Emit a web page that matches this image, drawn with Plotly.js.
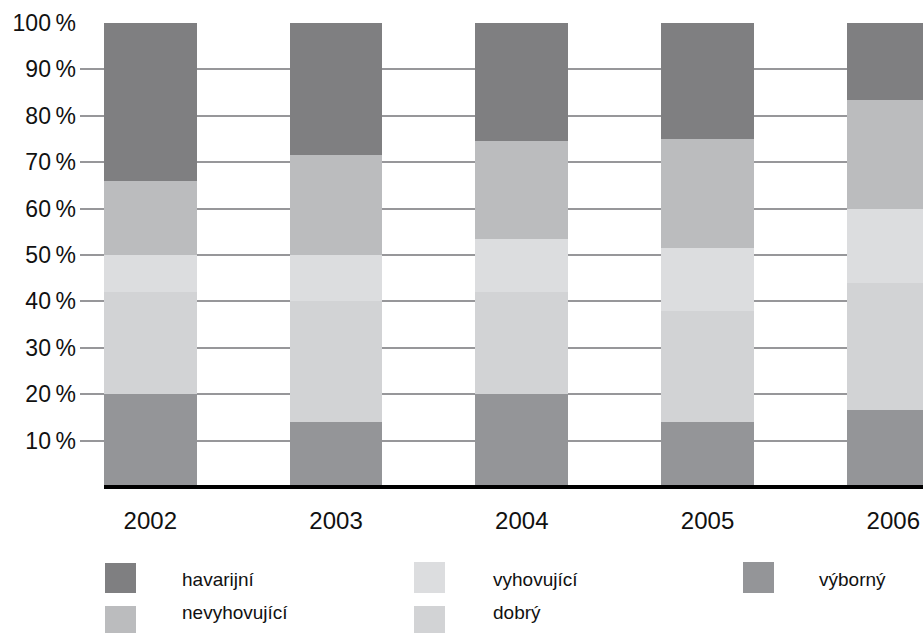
<!DOCTYPE html>
<html>
<head>
<meta charset="utf-8">
<script src="https://cdn.plot.ly/plotly-3.0.1.min.js"></script>
<style>html,body{margin:0;padding:0;background:#fff;}#chart{width:923px;height:633px;}</style>
</head>
<body>
<div id="chart"></div>
<script>
const years = ['2002', '2003', '2004', '2005', '2006'];
const seriesNames = ['výborný', 'dobrý', 'vyhovující', 'nevyhovující', 'havarijní'];
const vyborny      = [20, 14, 20, 14, 16.5];
const dobry        = [22, 26, 22, 24, 27.5];
const vyhovujici   = [8, 10, 11.5, 13.5, 16];
const nevyhovujici = [16, 21.5, 21, 23.5, 23.5];
const havarijni    = [34, 28.5, 25.5, 25, 16.5];
const yTicks = [10, 20, 30, 40, 50, 60, 70, 80, 90, 100];

const seriesValues = [vyborny, dobry, vyhovujici, nevyhovujici, havarijni];
const colors = ['#949598', '#d2d3d5', '#dcdddf', '#bbbcbe', '#7f7f81'];

const traces = seriesNames.map((n, i) => ({
  type: 'bar', name: n, x: years, y: seriesValues[i],
  marker: {color: colors[i], line: {width: 0}},
  showlegend: false, hoverinfo: 'skip'
}));

// pixel -> paper helpers (plot area: x 80..923, y 23..487)
const L = 80, R = 923, T = 23, B = 487;
const px = x => (x - L) / (R - L);
const py = y => (B - y) / (B - T);

// custom legend: [name index, square left px, square top px, square h, text left px, text center y]
const legendSpec = [
  [4, 105, 563, 30, 180, 579],
  [3, 105, 606, 30, 180, 612],
  [2, 414, 562, 31, 491, 579],
  [1, 414, 606, 30, 491, 612],
  [0, 743, 562, 31, 817, 579]
];
const shapes = [{
  type: 'line', xref: 'paper', yref: 'paper', x0: px(104), x1: 1.05, y0: py(487), y1: py(487),
  line: {color: '#000', width: 4}, layer: 'above'
}];
const annotations = [];
legendSpec.forEach(([i, sx, sy, sh, tx, ty]) => {
  shapes.push({type: 'rect', xref: 'paper', yref: 'paper',
    x0: px(sx), x1: px(sx + 31), y0: py(sy + sh), y1: py(sy),
    fillcolor: colors[i], line: {width: 0}});
  annotations.push({xref: 'paper', yref: 'paper', x: px(tx), y: py(ty),
    xanchor: 'left', yanchor: 'middle', showarrow: false, text: seriesNames[i],
    font: {family: 'Liberation Sans, Arial, sans-serif', size: 19, color: '#111'}});
});

const layout = {
  width: 923, height: 633,
  margin: {l: L, r: 0, t: T, b: 633 - B, pad: 0},
  paper_bgcolor: '#fff', plot_bgcolor: '#fff',
  barmode: 'stack', bargap: 0.5,
  font: {family: 'Liberation Sans, Arial, sans-serif', color: '#111'},
  xaxis: {
    type: 'category', range: [-0.3785, 4.16], showgrid: false, zeroline: false,
    showline: false, ticks: '', ticklabelstandoff: 17,
    tickfont: {size: 24, color: '#111'}, fixedrange: true
  },
  yaxis: {
    range: [0, 100], tickvals: yTicks, ticktext: yTicks.map(v => v + '\u2009%'),
    showgrid: true, gridcolor: '#97979a', gridwidth: 2, zeroline: false,
    showline: false, ticks: '', ticklabelstandoff: 3,
    tickfont: {size: 23, color: '#111'}, fixedrange: true
  },
  shapes: shapes,
  annotations: annotations,
  showlegend: false
};

Plotly.newPlot('chart', traces, layout, {displayModeBar: false, staticPlot: true});
</script>
</body>
</html>
